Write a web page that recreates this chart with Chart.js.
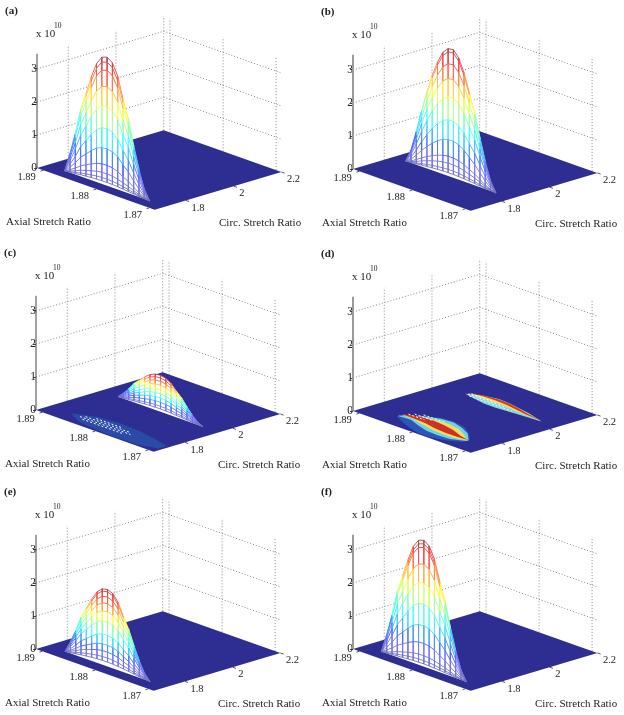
<!DOCTYPE html>
<html>
<head>
<meta charset="utf-8">
<script src="https://cdn.jsdelivr.net/npm/chart.js@4"></script>
<style>
  html, body { margin: 0; padding: 0; background: #fff; overflow: hidden; width: 624px; height: 715px; }
  canvas { position: absolute; filter: blur(0.3px); }
</style>
</head>
<body>
<script>
// Axis ranges and ticks
var axialStart = 1.8912, axialEnd = 1.869;
var circStart = 1.669, circEnd = 2.2;
var zTop = 3.46;
var zTicks = [0, 1, 2, 3];
var axialTicks = [1.89, 1.88, 1.87];
var circTicks = [1.8, 2, 2.2];
var panelNames = ['(a)', '(b)', '(c)', '(d)', '(e)', '(f)'];

// Mesh columns (axial stretch) and the relative height of an arch along them
var meshAxial = [1.888, 1.887, 1.886, 1.885, 1.884, 1.883, 1.882, 1.881, 1.88, 1.879, 1.878, 1.877, 1.876, 1.875, 1.874, 1.873, 1.872];
var archShape = [0, 0.15, 0.32, 0.52, 0.66, 0.8, 0.92, 0.985, 1, 0.97, 0.88, 0.72, 0.58, 0.39, 0.22, 0.08, 0];
var meshAxialB = [1.889, 1.888, 1.887, 1.886, 1.885, 1.884, 1.883, 1.882, 1.881, 1.88, 1.879, 1.878, 1.877, 1.876, 1.875, 1.874, 1.873, 1.872];
var archShapeB = [0, 0.1, 0.26, 0.44, 0.6, 0.74, 0.86, 0.95, 0.995, 1, 0.95, 0.85, 0.71, 0.57, 0.39, 0.22, 0.08, 0];

// Arch peaks per panel, x 10^10
var peaksA = [3.9, 3.75, 3.5, 3.0, 2.4, 1.73, 1.12, 0.62, 0.36, 0.2, 0.1];
var peaksB = [3.88, 3.78, 3.42, 2.97, 2.41, 1.71, 1.11, 0.6, 0.39, 0.2, 0.1];
var peaksC = [1.1, 1.02, 0.92, 0.8, 0.66, 0.54, 0.41, 0.28, 0.16, 0.08];
var peaksE = [2.33, 2.26, 2.1, 1.9, 1.65, 1.35, 0.94, 0.64, 0.43, 0.25, 0.13];
var peaksF = [3.83, 3.72, 3.61, 3.1, 2.53, 1.89, 1.24, 0.7, 0.33, 0.18, 0.08];
var circA = 1.714, circB = 1.841, circC = 1.942, circE = 1.72, circF = 1.717;

// Panel (c), the low ridge near the front
var ridgeCAxial = [1.887, 1.884, 1.88, 1.876, 1.872, 1.8695];
var ridgeCUpper = [1.73, 1.765, 1.775, 1.77, 1.75, 1.735];
var ridgeCLower = [1.725, 1.69, 1.68, 1.675, 1.68, 1.7];
var hatchCCirc = [1.715, 1.727, 1.739, 1.751];
var hatchCFrom = [1.8845, 1.8855, 1.885, 1.8835];
var hatchCTo = [1.877, 1.876, 1.8765, 1.8785];

// Panel (d), two flat ridges: contour bands, circ value above and below at each axial station
var ridgeD1Axial = [1.8859, 1.8837, 1.8814, 1.8792, 1.877, 1.8748, 1.8728];
var d1HaloUpper = [1.75, 1.8, 1.825, 1.83, 1.82, 1.79, 1.75];
var d1HaloLower = [1.735, 1.71, 1.69, 1.675, 1.675, 1.69, 1.72];
var d1CyanUpper = [1.745, 1.795, 1.82, 1.825, 1.81, 1.785, 1.745];
var d1CyanLower = [1.74, 1.745, 1.725, 1.71, 1.705, 1.71, 1.735];
var d1YellowUpper = [1.755, 1.785, 1.8, 1.805, 1.795, 1.77, 1.74];
var d1YellowLower = [1.755, 1.755, 1.74, 1.73, 1.725, 1.725, 1.74];
var d1RedUpper = [1.765, 1.785, 1.79, 1.785, 1.775, 1.755, 1.745];
var d1RedLower = [1.76, 1.76, 1.755, 1.745, 1.74, 1.74, 1.745];
var ridgeD2Axial = [1.8865, 1.8843, 1.8821, 1.8799, 1.8777, 1.8754, 1.8721];
var d2CyanUpper = [2.036, 2.065, 2.078, 2.075, 2.065, 2.055, 2.032];
var d2CyanLower = [2.035, 2.025, 2.015, 2.015, 2.02, 2.025, 2.03];
var d2YellowUpper = [2.045, 2.062, 2.075, 2.072, 2.062, 2.05, 2.032];
var d2YellowLower = [2.045, 2.045, 2.045, 2.045, 2.04, 2.035, 2.032];
var d2RedUpper = [2.055, 2.068, 2.076, 2.073, 2.063, 2.05, 2.034];
var d2RedLower = [2.055, 2.06, 2.062, 2.058, 2.05, 2.04, 2.034];
var hatchD1Circ = [1.775, 1.79, 1.805];
var hatchD1From = [1.8855, 1.885, 1.884];
var hatchD1To = [1.8825, 1.8815, 1.88];
var hatchD2Circ = [2.03, 2.04, 2.05];
var hatchD2From = [1.8855, 1.8862, 1.886];
var hatchD2To = [1.8775, 1.879, 1.8815];

var floorColor = '#2e2e92';
var gridColor = '#888';

// Panel placement on the page
var panelLeft = [0, 316, -1, 316, -1, 316];
var panelTop = [0, 1, 242, 243, 481, 481];

// Oblique view: z stays in the y scale's own units, so that axis is the real z axis
function project(a, c, z) {
  var s = (axialStart - a) / (axialStart - axialEnd);
  var t = (c - circStart) / (circEnd - circStart);
  return { x: 117.7 * s + 126.7 * t, y: z + (37.7 * t - 41.7 * s) / 33, z: z };
}

// jet colormap, washed out a little like the printed figure
function jet(v) {
  var r = Math.min(4 * v - 1.5, -4 * v + 4.5);
  var g = Math.min(4 * v - 0.5, -4 * v + 3.5);
  var b = Math.min(4 * v + 0.5, -4 * v + 2.5);
  var wash = v < 0.15 ? 0.45 : 0.28;
  function c(x) { return Math.round(255 * (wash + (1 - wash) * Math.max(0, Math.min(1, x)))); }
  return 'rgb(' + c(r) + ',' + c(g) + ',' + c(b) + ')';
}

function addLine(list, points, color, width, dash) {
  list.push({ data: points, showLine: true, pointRadius: 0, borderColor: color, borderWidth: width, borderDash: dash || [], fill: false, order: -list.length });
}

function addShape(list, points, color) {
  list.push({ data: points, showLine: true, pointRadius: 0, borderWidth: 0, borderColor: color, backgroundColor: color, fill: 'shape', order: -list.length });
}

function addWalls(list) {
  zTicks.slice(1).forEach(function (z) {
    addLine(list, [project(axialStart, circStart, z), project(axialStart, circEnd, z), project(axialEnd, circEnd, z)], gridColor, 1, [1, 2]);
  });
  circTicks.forEach(function (c) {
    addLine(list, [project(axialStart, c, 0), project(axialStart, c, zTop)], gridColor, 1, [1, 2]);
  });
  axialTicks.forEach(function (a) {
    addLine(list, [project(a, circEnd, 0), project(a, circEnd, zTop)], gridColor, 1, [1, 2]);
  });
}

function addFloor(list, axisColor, axisWidth) {
  addLine(list, [project(axialStart, circStart, 0), project(axialStart, circStart, zTop)], axisColor, axisWidth);
  addShape(list, [project(axialStart, circStart, 0), project(axialEnd, circStart, 0), project(axialEnd, circEnd, 0), project(axialStart, circEnd, 0)], floorColor);
  axialTicks.forEach(function (a) {
    addLine(list, [project(a, circStart, 0), project(a, circStart - 0.012, 0)], '#555', 1);
  });
  circTicks.forEach(function (c) {
    addLine(list, [project(axialEnd, c, 0), project(axialEnd - 0.0006, c, 0)], '#555', 1);
  });
}

function addMesh(list, axial, shape, peaks, circ) {
  var top = peaks[0];
  function lineColor(ctx) {
    var d = ctx.chart.data.datasets[ctx.datasetIndex].data;
    return jet((d[ctx.p0DataIndex].z + d[ctx.p1DataIndex].z) / 2 / top);
  }
  var outline = axial.map(function (a, j) { return project(a, circ, peaks[0] * shape[j]); });
  addShape(list, outline.concat(project(axial[axial.length - 1], circ, 0), project(axial[0], circ, 0)), '#fff');
  axial.forEach(function (a, j) {
    var pts = peaks.map(function (p) { return project(a, circ, p * shape[j]); });
    addLine(list, pts, '#000', 0.9);
    list[list.length - 1].segment = { borderColor: lineColor };
  });
  peaks.forEach(function (p) {
    var pts = axial.map(function (a, j) { return project(a, circ, p * shape[j]); });
    addLine(list, pts, '#000', 0.9);
    list[list.length - 1].segment = { borderColor: lineColor };
  });
}

function addBand(list, axial, upper, lower, color) {
  var pts = axial.map(function (a, j) { return project(a, upper[j], 0); });
  for (var j = axial.length - 1; j >= 0; j--) pts.push(project(axial[j], lower[j], 0));
  addShape(list, pts, color);
}

function addHatch(list, circs, from, to) {
  circs.forEach(function (c, i) {
    addLine(list, [project(from[i], c, 0), project(to[i], c, 0)], '#f4f8ff', 1, [2, 2]);
  });
}

function panelSets(i) {
  var list = [];
  var thin = i % 2 == 0;
  addWalls(list);
  addFloor(list, thin ? '#444' : '#999', thin ? 1 : 2);
  if (i == 0) addMesh(list, meshAxial, archShape, peaksA, circA);
  if (i == 1) addMesh(list, meshAxialB, archShapeB, peaksB, circB);
  if (i == 2) {
    addBand(list, ridgeCAxial, ridgeCUpper, ridgeCLower, '#2a4aa8');
    addHatch(list, hatchCCirc, hatchCFrom, hatchCTo);
    addMesh(list, meshAxial, archShape, peaksC, circC);
  }
  if (i == 3) {
    addBand(list, ridgeD1Axial, d1HaloUpper, d1HaloLower, '#2a55bb');
    addBand(list, ridgeD1Axial, d1CyanUpper, d1CyanLower, '#6fd2e0');
    addBand(list, ridgeD1Axial, d1YellowUpper, d1YellowLower, '#f2dc62');
    addBand(list, ridgeD1Axial, d1RedUpper, d1RedLower, '#cf3222');
    addHatch(list, hatchD1Circ, hatchD1From, hatchD1To);
    addBand(list, ridgeD2Axial, d2CyanUpper, d2CyanLower, '#7fd8e4');
    addBand(list, ridgeD2Axial, d2YellowUpper, d2YellowLower, '#f2dc62');
    addBand(list, ridgeD2Axial, d2RedUpper, d2RedLower, '#d23a26');
    addHatch(list, hatchD2Circ, hatchD2From, hatchD2To);
  }
  if (i == 4) addMesh(list, meshAxial, archShape, peaksE, circE);
  if (i == 5) addMesh(list, meshAxial, archShape, peaksF, circF);
  return list;
}

var labelPlugin = {
  id: 'labelPlugin',
  afterDatasetsDraw: function (chart) {
    var ctx = chart.ctx, xs = chart.scales.x, ys = chart.scales.y;
    var ox = xs.getPixelForValue(0), oy = ys.getPixelForValue(0);
    ctx.save();
    ctx.fillStyle = '#222';
    ctx.textBaseline = 'middle';

    ctx.font = 'bold 11px "Liberation Serif"';
    ctx.textAlign = 'left';
    ctx.fillText(chart.options.plugins.panelName, 5, 11);

    ctx.font = '11px "Liberation Serif"';
    ctx.fillText('Axial Stretch Ratio', ox - 31, oy + 54.5);
    ctx.fillText('Circ. Stretch Ratio', ox + 182, oy + 55.5);
    ctx.fillText('x 10', ox - 1, oy - 133.5);
    ctx.font = '7.5px "Liberation Serif"';
    ctx.fillText('10', ox + 17, oy - 141.5);

    ctx.font = '10.5px "Liberation Serif"';
    ctx.textAlign = 'right';
    axialTicks.forEach(function (a) {
      var p = project(a, circStart, 0);
      ctx.fillText(a.toFixed(2), xs.getPixelForValue(p.x) - 7.5, ys.getPixelForValue(p.y) + 7);
    });
    ctx.textAlign = 'left';
    circTicks.forEach(function (c) {
      var p = project(axialEnd, c, 0);
      ctx.fillText(String(c), xs.getPixelForValue(p.x) + 5.5, ys.getPixelForValue(p.y) + 7.5);
    });
    ctx.restore();
  }
};

panelNames.forEach(function (name, i) {
  var canvas = document.createElement('canvas');
  canvas.width = 312;
  canvas.height = 234;
  canvas.style.left = panelLeft[i] + 'px';
  canvas.style.top = panelTop[i] + 'px';
  document.body.appendChild(canvas);
  new Chart(canvas.getContext('2d'), {
    type: 'scatter',
    data: { datasets: panelSets(i) },
    options: {
      responsive: false,
      animation: false,
      events: [],
      layout: { padding: 0 },
      plugins: { legend: { display: false }, tooltip: { enabled: false }, panelName: name },
      scales: {
        x: { type: 'linear', display: false, min: -37, max: 275 },
        y: {
          type: 'linear', min: -2, max: 168 / 33, position: { x: 0 },
          border: { display: false },
          grid: { drawOnChartArea: false, tickLength: 3, tickColor: '#444' },
          afterBuildTicks: function (axis) { axis.ticks = zTicks.map(function (v) { return { value: v }; }); },
          afterFit: function (axis) { axis.paddingTop = 0; axis.paddingBottom = 0; },
          ticks: { color: '#222', padding: 7, font: { family: '"Liberation Serif"', size: 11.5 }, callback: function (v) { return String(v); } }
        }
      }
    },
    plugins: [labelPlugin]
  });
});
</script>
</body>
</html>
